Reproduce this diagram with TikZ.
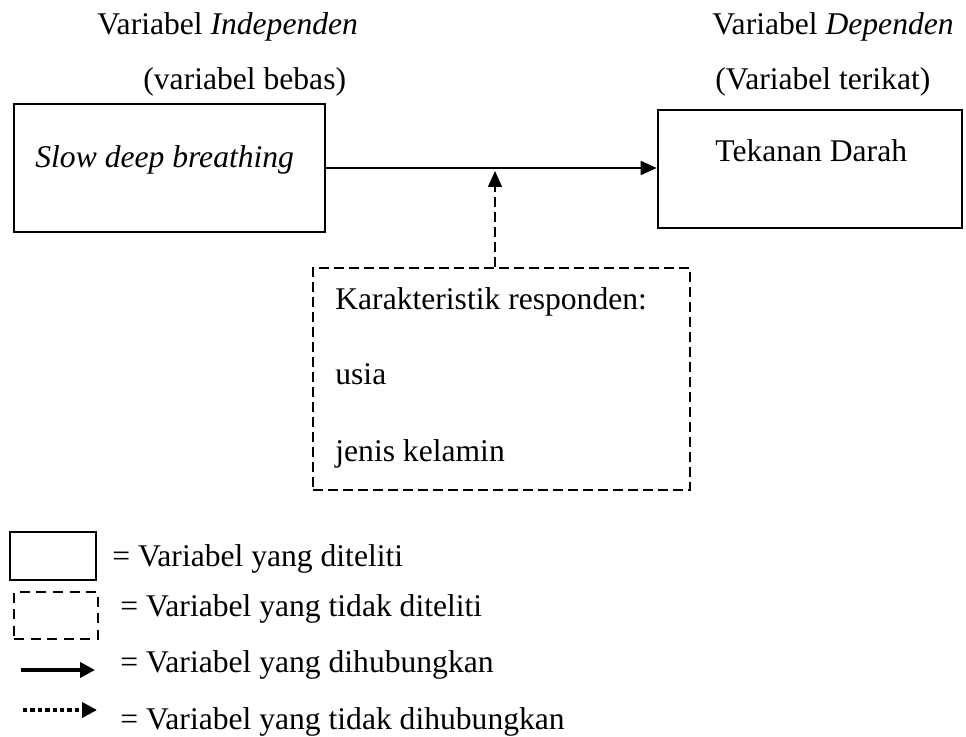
\documentclass[tikz,border=0pt]{standalone}
\usepackage{fontspec}
\setmainfont{Liberation Serif}
\usetikzlibrary{arrows.meta}
\tikzset{
  varbox/.style={draw, line width=1.3pt, inner sep=0pt},
  hidbox/.style={draw, line width=1pt, dash pattern=on 5pt off 2.5pt, inner sep=0pt},
  txt/.style={anchor=base west, inner sep=0pt},
  link/.style={line width=0.75pt, -{Triangle[length=8pt,width=7pt]}},
  keylink/.style={line width=2.4pt, -{Triangle[length=7.5pt,width=7.5pt]}},
}

\begin{document}
\begin{tikzpicture}[x=0.5pt,y=-0.5pt,font=\fontsize{15.8}{19}\selectfont]
\useasboundingbox (0,0) rectangle (966,737);
% judul kolom
\node[txt] (indep) at (97,35) {Variabel \textit{Independen}};
\node[txt] (bebas) at (143,90) {(variabel bebas)};
\node[txt] (dep) at (712,35) {Variabel \textit{Dependen}};
\node[txt] (terikat) at (715,90) {(Variabel terikat)};
% kotak variabel
\node[varbox, minimum width=155.5pt, minimum height=64pt] (sdb) at (169.5,168) {};
\node[txt] (sdbtxt) at (35,168) {\textit{Slow deep breathing}};
\node[varbox, minimum width=152pt, minimum height=59pt] (td) at (810,169) {};
\node[txt] (tdtxt) at (715,162) {Tekanan Darah};
\node[hidbox, minimum width=188.5pt, minimum height=111pt] (kr) at (501.5,379) {};
\node[txt] (krtxt) at (335,310) {Karakteristik responden:};
\node[txt] (usia) at (335,385) {usia};
\node[txt] (jk) at (335,462) {jenis kelamin};
% panah
\coordinate (hit) at (495,171);
\draw[link] (sdb.east) -- (sdb.east -| td.west);
\draw[link, dash pattern=on 5pt off 2.5pt] (kr.north -| hit) -- (hit);
% keterangan
\node[varbox, minimum width=43pt, minimum height=24pt] (k1) at (53,556) {};
\node[hidbox, line width=1.4pt, dash pattern=on 5pt off 3.3pt, minimum width=42pt, minimum height=23.5pt] (k2) at (56,615.5) {};
\coordinate (a1) at (21,670);
\coordinate (a2) at (95,670);
\coordinate (b1) at (23,710);
\coordinate (b2) at (97,710);
\draw[keylink] (a1) -- (a2);
\draw[keylink, dash pattern=on 2.2pt off 1.5pt] (b1) -- (b2);
\node[txt] (t1) at (112,567) {= Variabel yang diteliti};
\node[txt] (t2) at (120,617) {= Variabel yang tidak diteliti};
\node[txt] (t3) at (120,673) {= Variabel yang dihubungkan};
\node[txt] (t4) at (120,730) {= Variabel yang tidak dihubungkan};
\end{tikzpicture}
\end{document}
